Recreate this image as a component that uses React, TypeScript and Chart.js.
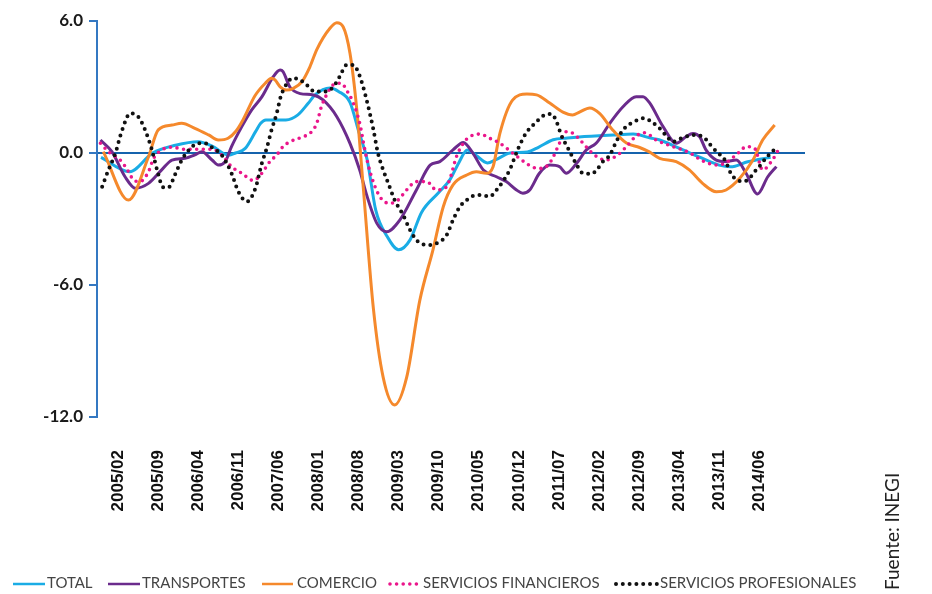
import React, { useEffect, useRef } from "react";
import { Chart, registerables } from "chart.js";

Chart.register(...registerables);

// x values are months counted from 2005/02 (= 0)
const tickMonths = [0, 7, 14, 21, 28, 35, 42, 49, 56, 63, 70, 77, 84, 91, 98, 105, 112];
const tickLabels = [
  "2005/02", "2005/09", "2006/04", "2006/11", "2007/06", "2008/01", "2008/08", "2009/03",
  "2009/10", "2010/05", "2010/12", "2011/07", "2012/02", "2012/09", "2013/04", "2013/11", "2014/06",
];
const yTickValues = [6, 0, -6, -12];

const seriesNames = ["TOTAL", "TRANSPORTES", "COMERCIO", "SERVICIOS FINANCIEROS", "SERVICIOS PROFESIONALES"];

const totalMonths = [-3, 2, 6, 10, 14, 16.5, 19.3, 20.5, 22.2, 24.0, 24.9, 25.8, 29.3, 31.4, 33.2, 34.4, 37, 38.5, 40.5, 42, 43.5, 45, 47, 49, 51, 53, 56, 58, 59.5, 61, 62.5, 64.5, 66, 68.5, 71.5, 73.5, 76, 78.5, 80.5, 86.5, 90, 93, 94.5, 98, 101.5, 105, 107, 110, 114];
const totalValues = [-0.2, -0.85, 0, 0.35, 0.51, 0.3, -0.1, 0, 0.21, 0.97, 1.35, 1.5, 1.5, 1.73, 2.26, 2.64, 2.95, 2.8, 2.3, 1.0, -0.3, -2.6, -3.8, -4.4, -3.95, -2.7, -1.8, -1.2, -0.45, 0.14, -0.1, -0.45, -0.3, 0, 0.05, 0.27, 0.6, 0.68, 0.73, 0.82, 0.86, 0.68, 0.6, 0.22, -0.18, -0.55, -0.63, -0.4, -0.2];

const transMonths = [-3.1, -1.1, 1.2, 3.0, 5.3, 7.6, 9.4, 11.7, 13.4, 14.6, 16.4, 17.5, 18.7, 19.8, 21.6, 23.3, 25.1, 27.1, 28.3, 28.8, 30.0, 31.8, 34.1, 35.8, 38.2, 40.5, 42.2, 43.4, 45.2, 46.9, 49.2, 52.1, 54.5, 56.2, 58.5, 60.3, 62.0, 63.8, 66.1, 67.8, 69.6, 70.7, 71.9, 73.6, 75.4, 77.1, 78.3, 80.1, 81.8, 83.5, 85.9, 88.2, 90.5, 91.7, 92.8, 95.2, 97.5, 99.2, 100.4, 101.6, 102.7, 104.5, 106.2, 108.0, 109.7, 111.7, 113.5, 115.0];
const transValues = [0.59, 0.06, -1.08, -1.6, -1.38, -0.77, -0.32, -0.24, -0.09, 0.06, -0.32, -0.55, -0.39, 0.29, 1.2, 1.95, 2.55, 3.47, 3.77, 3.7, 3.0, 2.7, 2.64, 2.41, 1.65, 0.44, -0.77, -1.9, -3.2, -3.58, -3.05, -1.68, -0.55, -0.39, 0.14, 0.48, -0.02, -0.77, -1.08, -1.3, -1.68, -1.83, -1.68, -0.92, -0.55, -0.62, -0.92, -0.47, 0.14, 0.44, 1.35, 2.1, 2.56, 2.56, 2.3, 1.2, 0.44, 0.74, 0.89, 0.74, 0.14, -0.32, -0.39, -0.32, -0.92, -1.86, -1.08, -0.62];

const comercioMonths = [-2.6, 1.8, 5.3, 7.0, 9.4, 11.1, 13.4, 15.8, 17.5, 19.2, 20.6, 21.8, 23.9, 25.7, 26.8, 27.4, 28.3, 29.4, 30.6, 32.1, 33.5, 34.7, 37.0, 38.2, 39.3, 40.5, 41.7, 42.8, 44.6, 46.3, 48.3, 50.4, 52.7, 55.0, 56.8, 58.5, 60.9, 62.6, 64.3, 65.5, 66.7, 68.9, 71.4, 73.1, 75.4, 77.7, 79.4, 80.6, 82.4, 84.1, 86.4, 88.8, 91.1, 92.8, 94.6, 97.5, 99.8, 102.1, 104.5, 106.2, 108.6, 110.9, 112.6, 114.7];
const comercioValues = [0.06, -2.14, -0.17, 1.05, 1.27, 1.35, 1.12, 0.82, 0.59, 0.67, 1.0, 1.5, 2.6, 3.17, 3.4, 3.32, 3.01, 2.86, 2.94, 3.24, 3.92, 4.7, 5.67, 5.92, 5.74, 4.53, 1.95, -1.5, -7.1, -10.2, -11.45, -10.2, -6.7, -4.4, -2.44, -1.45, -1.0, -0.85, -0.92, -0.62, 0.9, 2.4, 2.68, 2.64, 2.27, 1.86, 1.73, 1.86, 2.05, 1.8, 1.05, 0.45, 0.25, 0.05, -0.24, -0.39, -0.77, -1.38, -1.76, -1.68, -1.15, -0.32, 0.59, 1.27];

const finMonths = [-3.1, -1.7, 0.6, 1.8, 2.7, 3.8, 5.3, 6.2, 7.6, 9.4, 11.7, 16.4, 18.1, 19.8, 21.6, 23.6, 25.1, 26.5, 27.7, 28.8, 30.0, 32.3, 33.5, 34.7, 35.5, 36.4, 37.6, 39.0, 39.9, 41.1, 42.2, 43.1, 44.0, 45.7, 47.5, 48.9, 50.4, 52.1, 53.9, 55.6, 57.1, 57.9, 59.1, 60.3, 61.4, 63.2, 64.9, 66.7, 69.0, 71.3, 72.5, 73.9, 75.1, 75.9, 77.1, 78.3, 79.5, 80.6, 83.2, 85.2, 87.3, 88.8, 90.5, 92.0, 94.0, 96.9, 99.8, 102.1, 104.8, 106.2, 108.6, 109.7, 111.2, 112.6, 114.3, 115.5];
const finValues = [0.44, 0.06, -0.39, -0.85, -1.23, -1.3, -0.85, -0.24, 0.14, 0.26, 0.17, 0.17, -0.09, -0.62, -0.92, -1.25, -0.92, -0.39, -0.09, 0.29, 0.51, 0.74, 0.89, 1.35, 2.1, 2.64, 3.1, 3.17, 2.86, 2.26, 1.35, 0.14, -0.85, -1.98, -2.29, -2.14, -1.68, -1.3, -1.3, -1.68, -1.6, -1.23, -0.17, 0.44, 0.74, 0.86, 0.67, 0.44, -0.02, -0.47, -0.65, -0.7, -0.55, -0.24, 0.44, 0.97, 0.89, 0.62, -0.09, -0.32, -0.09, 0.29, 0.77, 0.92, 0.59, 0.29, 0.02, -0.36, -0.55, -0.44, 0.06, 0.29, 0.21, -0.77, -0.32, 0.21];

const profMonths = [-2.8, -1.7, -0.5, 0.6, 2.1, 3.5, 4.7, 5.9, 6.8, 7.9, 8.8, 9.9, 11.1, 12.6, 14.0, 15.2, 16.6, 18.1, 19.8, 21.0, 22.5, 24.0, 25.1, 26.0, 26.8, 27.7, 28.4, 29.7, 30.6, 31.8, 32.9, 34.4, 36.1, 37.6, 38.7, 39.9, 41.1, 41.9, 42.8, 43.7, 44.6, 45.4, 46.3, 47.2, 48.3, 49.8, 51.0, 52.4, 54.5, 56.2, 57.4, 58.5, 59.7, 60.9, 62.0, 63.5, 64.9, 66.1, 67.2, 68.4, 69.9, 71.3, 72.5, 73.4, 74.5, 75.7, 76.6, 77.4, 78.6, 79.8, 81.2, 82.7, 83.8, 84.7, 85.9, 87.0, 88.2, 89.6, 90.8, 91.9, 93.4, 94.6, 95.8, 96.9, 98.1, 99.2, 100.4, 101.9, 102.8, 103.7, 104.9, 106.0, 107.1, 108.0, 109.2, 110.3, 111.2, 112.0, 112.9, 113.8, 114.7];
const profValues = [-1.53, -0.77, -0.02, 0.97, 1.8, 1.65, 1.05, 0.14, -0.77, -1.56, -1.56, -1.0, -0.32, 0.21, 0.44, 0.44, 0.21, -0.09, -0.92, -1.76, -2.21, -1.58, -0.47, 0.26, 1.05, 1.8, 2.56, 3.24, 3.4, 3.32, 3.1, 2.79, 2.79, 3.01, 3.47, 4.0, 4.0, 3.7, 3.01, 2.1, 1.05, -0.02, -0.77, -1.38, -2.14, -2.82, -3.5, -4.03, -4.18, -4.03, -3.73, -3.05, -2.44, -2.14, -1.95, -1.91, -1.98, -1.68, -1.3, -0.77, 0.21, 0.92, 1.27, 1.5, 1.73, 1.77, 1.42, 0.82, 0.21, -0.39, -0.92, -0.95, -0.7, -0.39, -0.09, 0.51, 1.05, 1.35, 1.5, 1.58, 1.38, 1.12, 0.77, 0.51, 0.64, 0.74, 0.82, 0.77, 0.59, 0.29, -0.02, -0.32, -0.95, -1.2, -1.3, -1.15, -0.85, -0.62, -0.32, -0.05, 0.17];

const sourceText = "Fuente: INEGI";

// ---- layout / style (not data) ----
const W = 932;
const H = 594;
const AREA = { left: 97, top: 21, right: 805, bottom: 417 };
const LEGEND_Y = 583;
const legendPos = [
  { x1: 13, x2: 45, tx: 47 },
  { x1: 108, x2: 140, tx: 142 },
  { x1: 262, x2: 293, tx: 297 },
  { x1: 390, x2: 420, tx: 423 },
  { x1: 616, x2: 657, tx: 660 },
];

function zip(xs: number[], ys: number[]) {
  const n = Math.min(xs.length, ys.length);
  const out: { x: number; y: number }[] = [];
  for (let i = 0; i < n; i++) out.push({ x: xs[i], y: ys[i] });
  return out;
}

export default function App() {
  const ref = useRef<HTMLCanvasElement | null>(null);

  useEffect(() => {
    const canvas = ref.current;
    if (!canvas) return;

    const base = {
      pointRadius: 0,
      pointHoverRadius: 0,
      fill: false,
      cubicInterpolationMode: "monotone" as const,
      borderJoinStyle: "round" as const,
    };

    const datasets: any[] = [
      { ...base, label: seriesNames[0], data: zip(totalMonths, totalValues), borderColor: "#1AACE5", borderWidth: 3, order: 5 },
      { ...base, label: seriesNames[1], data: zip(transMonths, transValues), borderColor: "#6B2B8C", borderWidth: 3, order: 4 },
      { ...base, label: seriesNames[2], data: zip(comercioMonths, comercioValues), borderColor: "#F5892C", borderWidth: 3, order: 3 },
      { ...base, label: seriesNames[3], data: zip(finMonths, finValues), borderColor: "#EA168B", borderWidth: 3.6, borderDash: [0, 6.6], borderCapStyle: "round", order: 2 },
      { ...base, label: seriesNames[4], data: zip(profMonths, profValues), borderColor: "#111111", borderWidth: 4, borderDash: [0, 6.8], borderCapStyle: "round", order: 1 },
    ];

    const extras = {
      id: "extras",
      afterDraw(chart: any) {
        const ctx = chart.ctx as CanvasRenderingContext2D;
        ctx.save();
        // legend
        chart.data.datasets.forEach((ds: any, i: number) => {
          const p = legendPos[i];
          ctx.save();
          ctx.beginPath();
          ctx.strokeStyle = ds.borderColor;
          ctx.lineWidth = ds.borderDash ? ds.borderWidth : 2.5;
          ctx.lineCap = ds.borderDash ? "round" : "butt";
          ctx.setLineDash(ds.borderDash ? ds.borderDash : []);
          ctx.moveTo(p.x1, LEGEND_Y + 1);
          ctx.lineTo(p.x2, LEGEND_Y + 1);
          ctx.stroke();
          ctx.restore();
          ctx.fillStyle = "#444";
          ctx.font = "400 15px Lato";
          ctx.textAlign = "left";
          ctx.textBaseline = "middle";
          ctx.fillText(ds.label, p.tx, LEGEND_Y);
        });
        // source
        ctx.translate(899, 590);
        ctx.rotate(-Math.PI / 2);
        ctx.fillStyle = "#222";
        ctx.font = "400 19px Lato";
        ctx.textAlign = "left";
        ctx.textBaseline = "alphabetic";
        ctx.fillText(sourceText, 0, 0);
        ctx.restore();
      },
    };

    const chart = new Chart(canvas, {
      type: "line",
      data: { datasets },
      plugins: [extras],
      options: {
        animation: false,
        responsive: false,
        devicePixelRatio: 1,
        events: [],
        layout: {
          autoPadding: false,
          padding: { top: AREA.top, right: W - AREA.right, left: 0, bottom: 0 },
        },
        plugins: {
          legend: { display: false },
          tooltip: { enabled: false },
        },
        scales: {
          x: {
            type: "linear",
            min: -3.7,
            max: 120,
            position: "bottom",
            afterBuildTicks: (s: any) => {
              s.ticks = tickMonths.map((v) => ({ value: v }));
            },
            afterFit: (s: any) => {
              s.height = H - AREA.bottom;
            },
            grid: { display: false, drawTicks: false },
            border: { display: false },
            ticks: {
              autoSkip: false,
              minRotation: 90,
              maxRotation: 90,
              padding: 33,
              color: "#111",
              font: { family: "'Liberation Sans', Arial, sans-serif", size: 17, weight: "bold" },
              callback: (_v: any, i: number) => tickLabels[i] ?? "",
            },
          },
          y: {
            type: "linear",
            min: -12,
            max: 6,
            afterBuildTicks: (s: any) => {
              s.ticks = yTickValues.map((v) => ({ value: v }));
            },
            afterFit: (s: any) => {
              s.width = AREA.left;
            },
            grid: {
              drawOnChartArea: true,
              color: (c: any) => (c.tick && c.tick.value === 0 ? "#1563AD" : "rgba(0,0,0,0)"),
              lineWidth: 2,
              tickColor: "#3478C2",
              tickLength: 8,
              tickWidth: 2,
            },
            border: { display: true, color: "#3478C2", width: 2 },
            ticks: {
              padding: 6,
              color: "#1a1a1a",
              font: { family: "Lato", size: 17, weight: "bold" },
              callback: (v: any) => Number(v).toFixed(1),
            },
          },
        },
      } as any,
    });

    return () => chart.destroy();
  }, []);

  return (
    <div style={{ position: "absolute", left: 0, top: 0, width: W, height: H, background: "#fff" }}>
      <canvas ref={ref} width={W} height={H} style={{ display: "block", width: W, height: H }} />
    </div>
  );
}
